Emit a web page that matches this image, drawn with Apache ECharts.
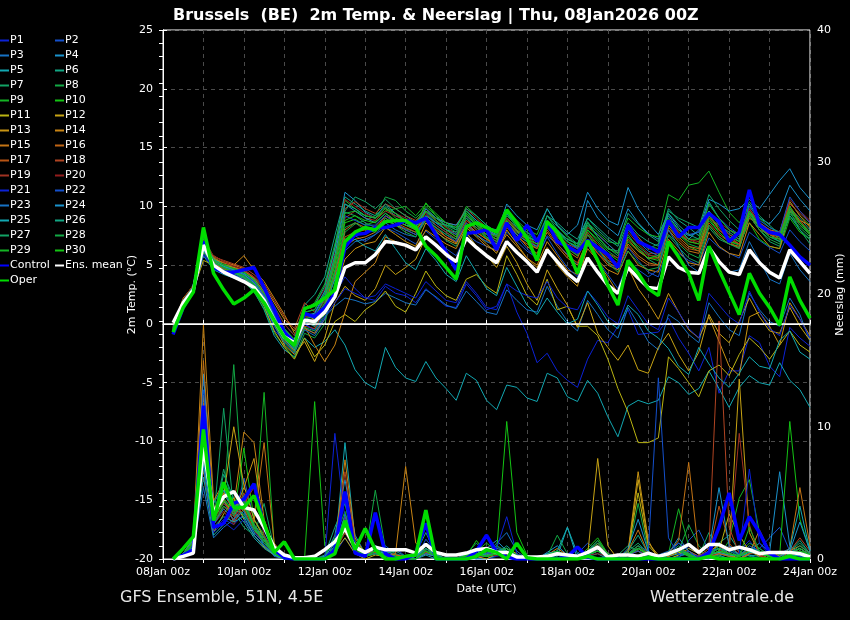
<!DOCTYPE html>
<html><head><meta charset="utf-8">
<script src="https://cdn.jsdelivr.net/npm/echarts@6.0.0/dist/echarts.min.js"></script>
<style>html,body{margin:0;padding:0;background:#000}#c{width:850px;height:620px}</style>
</head><body><div id="c"></div><script>
// x tick labels (every 48 h from 08Jan 00z)
const tickLabels = ['08Jan 00z','10Jan 00z','12Jan 00z','14Jan 00z','16Jan 00z','18Jan 00z','20Jan 00z','22Jan 00z','24Jan 00z'];
// forecast steps: +6h ... +384h
const hours = []; for (let i = 1; i <= 64; i++) hours.push(i * 6);

// ---- 2m temperature (°C) ----
const meanT = [0.1,1.8,2.9,6.7, 5.0,4.4,4.0,3.6, 3.1,2.0,0.3,-1.1, -1.6,0.3,0.2,1.0, 2.3,4.8,5.2,5.2, 5.9,7.0,6.9,6.7, 6.3,7.4,6.7,5.9, 5.3,7.3,6.5,5.8, 5.2,7.0,6.1,5.3, 4.4,6.3,5.3,4.3, 3.6,5.6,4.4,3.3, 2.6,4.8,3.9,3.1, 3.0,5.7,4.8,4.4, 4.3,6.5,5.3,4.4, 4.2,6.3,5.2,4.4, 3.9,6.3,5.3,4.3];
const controlT = [-0.9,1.4,2.9,7.0, 4.8,4.4,4.4,4.6, 4.8,3.1,1.2,-0.7, -1.6,0.9,0.6,1.4, 2.6,6.5,7.6,7.7, 8.2,8.2,8.4,8.8, 8.6,9.0,7.6,6.1, 4.6,7.7,7.8,8.0, 6.3,8.6,7.1,8.4, 7.0,8.6,7.0,6.6, 6.1,7.1,6.5,5.9, 4.8,8.4,7.0,6.6, 6.1,8.8,7.4,8.2, 8.2,9.4,8.7,7.0, 7.8,11.4,8.4,7.8, 7.6,6.7,5.7,5.0];
const operT = [-0.7,1.4,2.7,8.2, 4.3,2.9,1.7,2.2, 2.9,1.8,0.3,-1.1, -1.8,1.3,1.6,2.2, 2.9,7.0,7.8,8.2, 8.0,8.7,8.8,8.8, 8.2,6.6,5.8,4.8, 3.8,8.3,8.6,8.2, 7.8,9.7,8.6,7.3, 5.4,8.7,7.8,6.3, 4.3,7.1,5.4,3.3, 1.6,5.4,4.3,3.0, 2.4,7.0,5.7,4.3, 2.0,6.6,4.6,2.7, 0.8,4.3,2.6,1.4, -0.1,4.0,2.0,0.5];
const P1t = [-0.5,1.7,2.9,6.0, 4.8,4.5,4.2,3.8, 3.0,1.5,-0.5,-1.5, -2.2,0.0,-0.5,1.0, 2.5,4.0,3.0,2.2, 2.0,3.2,2.6,2.4, 1.8,3.0,2.2,1.5, 1.4,3.4,2.4,1.2, 1.5,3.4,1.0,-0.8, -3.3,-2.5,-4.0,-4.8, -5.4,-3.0,-1.4,-1.6, -0.2,1.2,-0.9,-0.8, -0.7,0.5,-1.2,-2.5, -4.0,-2.0,-5.9,-4.0, -4.0,-1.0,-1.6,-3.6, -4.5,-0.3,-1.2,-1.9];
const P2t = [-0.3,1.9,3.1,6.8, 5.3,4.8,4.5,4.1, 3.5,2.6,0.8,-0.8, -1.5,0.8,0.4,1.8, 4.5,7.2,7.5,7.0, 7.6,8.2,7.8,7.3, 6.8,7.9,7.2,6.4, 5.8,7.6,7.0,6.6, 6.3,7.8,7.0,6.2, 5.6,7.5,6.8,5.9, 5.0,7.0,6.2,5.3, 4.6,6.5,5.4,4.4, 4.0,6.8,6.0,5.4, 5.0,7.3,6.5,6.0, 5.6,7.8,7.1,6.5, 6.0,8.0,7.0,6.2];
const P3t = [-0.6,1.6,2.8,6.2, 5.0,4.3,4.1,3.9, 3.2,2.2,0.5,-1.2, -2.0,-0.3,-0.8,0.6, 1.5,2.2,2.0,1.7, 1.9,2.6,2.2,1.8, 1.6,2.9,2.3,1.6, 1.3,2.8,1.9,1.0, 0.8,2.9,2.0,1.2, 1.0,3.2,1.5,0.2, -0.6,2.0,0.8,-0.5, -1.2,1.4,0.0,-1.5, -2.2,0.8,0.2,-0.9, -1.6,1.8,0.6,-0.5, -1.0,2.6,1.2,0.2, -0.2,2.2,0.8,-1.5];
const P4t = [-0.4,1.8,3.0,7.0, 5.5,4.9,4.6,4.3, 3.8,2.8,1.2,-0.5, -1.6,1.0,1.2,2.8, 6.5,11.2,10.5,9.5, 9.0,9.8,9.2,8.8, 8.5,9.5,8.6,8.0, 7.8,9.2,8.4,7.9, 7.5,9.4,8.5,7.8, 7.2,8.8,8.0,7.0, 6.5,10.5,9.0,8.2, 7.5,9.8,8.6,7.7, 7.2,9.2,8.0,7.5, 7.8,9.6,8.5,7.6, 7.0,10.2,9.0,8.5, 9.5,11.8,10.6,9.6];
const P5t = [-0.8,1.5,2.7,5.8, 4.6,4.2,3.9,3.6, 2.8,1.2,-1.0,-2.2, -2.8,-1.2,-2.0,-1.5, -0.5,-1.8,-3.9,-5.0, -5.5,-2.0,-3.7,-4.6, -4.9,-3.2,-4.6,-5.5, -6.5,-4.2,-4.8,-6.5, -7.3,-5.2,-5.4,-6.3, -6.6,-4.2,-4.6,-6.2, -6.6,-4.8,-5.9,-7.9, -9.6,-7.0,-6.5,-6.8, -6.5,-4.5,-5.0,-6.0, -5.5,-4.0,-5.5,-7.1, -5.4,-4.4,-5.0,-5.2, -3.3,-4.8,-5.6,-7.1];
const P6t = [-0.2,2.0,3.2,7.2, 5.6,5.0,4.7,4.5, 3.9,3.0,1.5,0.0, -1.0,1.6,2.5,4.0, 7.5,10.8,10.2,9.6, 9.2,10.0,9.4,8.6, 8.0,9.0,8.4,7.8, 7.2,9.6,8.8,8.2, 8.0,9.2,8.4,7.5, 7.0,8.6,7.8,7.2, 6.8,9.0,8.2,7.4, 6.8,9.4,8.5,7.6, 7.0,9.8,8.8,8.2, 7.5,10.4,9.0,8.0, 7.4,9.6,8.6,8.0, 7.2,9.8,9.0,8.0];
const P7t = [-0.5,1.9,3.1,6.6, 5.2,4.7,4.5,4.1, 3.4,2.1,0.4,-0.9, -1.9,0.6,0.5,2.2, 5.5,9.5,9.2,8.6, 8.2,8.8,8.4,8.1, 7.8,8.9,7.9,7.1, 6.6,8.2,7.5,7.0, 6.8,8.8,7.9,7.2, 6.5,9.2,8.3,7.5, 6.8,8.7,7.4,6.5, 5.8,7.6,6.4,5.5, 5.0,7.5,6.5,5.6, 5.2,8.2,7.2,6.8, 6.5,9.2,8.0,7.0, 6.6,9.6,8.0,6.8];
const P8t = [-0.9,1.6,2.8,6.3, 4.9,4.4,4.0,3.6, 2.7,1.3,-0.8,-1.9, -2.9,-0.8,-1.2,0.0, 3.5,7.8,8.5,8.8, 9.2,10.8,10.5,9.6, 9.0,9.8,9.0,8.3, 7.8,9.4,8.6,7.8, 7.2,9.0,8.2,7.5, 7.0,8.4,7.6,6.7, 6.0,8.0,7.2,6.2, 5.6,7.4,6.6,5.9, 5.6,8.6,7.6,6.8, 6.5,8.8,7.8,7.0, 6.7,9.4,8.2,7.6, 7.0,9.2,8.2,7.4];
const P9t = [-0.4,2.1,3.3,7.4, 5.7,5.1,4.8,4.4, 3.7,2.5,0.9,-0.4, -1.3,1.2,1.8,3.4, 6.8,10.5,9.8,9.2, 9.0,9.6,9.8,10.0, 9.2,10.2,9.4,8.6, 8.0,10.0,9.2,8.4, 7.8,9.6,8.8,8.0, 7.6,9.8,8.4,7.4, 6.6,8.6,7.8,7.0, 6.8,9.0,8.2,7.6, 7.4,11.0,10.5,11.8, 12.0,13.0,11.2,9.5, 8.6,10.0,9.0,8.2, 7.8,10.4,9.2,8.4];
const P10t = [-0.6,1.8,3.0,6.9, 5.4,4.9,4.4,4.0, 3.3,2.2,0.6,-1.0, -1.7,0.4,0.0,1.4, 4.6,8.6,8.9,8.4, 8.7,9.9,9.0,8.6, 8.3,10.3,9.2,8.2, 7.6,9.0,8.0,7.3, 6.8,8.4,7.6,7.0, 6.4,8.8,7.6,6.6, 5.8,7.8,6.6,5.6, 5.0,7.0,6.2,5.6, 5.4,8.2,7.4,6.6, 6.2,9.0,7.8,7.0, 6.8,8.6,7.2,6.6, 6.4,9.0,7.8,7.2];
const P11t = [-0.7,1.7,2.9,5.4, 5.0,4.4,4.0,3.7, 2.9,1.5,-0.6,-2.0, -3.0,-1.2,-2.8,-1.8, 0.2,0.8,0.2,1.2, 1.8,2.8,1.5,1.0, 2.6,4.5,3.2,2.4, 2.0,3.8,4.2,3.2, 2.6,5.8,4.2,2.4, 1.6,3.8,1.2,1.5, -0.2,-0.2,-1.0,-3.0, -5.5,-7.5,-10.1,-10.1, -9.7,-2.8,-3.8,-5.0, -6.2,-4.0,-3.5,-4.4, -2.6,-1.2,-2.0,-3.0, -1.8,-0.6,-1.8,-2.4];
const P12t = [-0.3,2.0,3.1,6.4, 5.3,4.6,4.3,3.9, 3.1,1.8,0.0,-1.8, -2.6,-1.5,-3.2,-1.2, 1.8,3.2,2.4,2.0, 3.0,5.0,4.2,4.8, 5.5,7.4,6.8,6.0, 5.2,7.8,6.6,5.8, 4.8,6.6,5.2,3.4, 2.0,4.6,3.0,1.6, -0.3,1.8,-0.8,-2.0, -3.1,-1.8,-3.9,-4.2, -2.0,-0.8,-2.6,-4.0, -2.4,0.8,-0.8,-1.6, 0.2,2.2,0.6,-0.6, -0.8,1.4,-0.2,-1.4];
const P13t = [-0.5,1.8,3.0,6.1, 5.4,5.0,4.8,4.6, 4.0,3.2,1.8,0.4, -0.6,1.0,0.3,0.8, 2.8,5.5,6.4,6.8, 7.0,8.2,7.6,7.0, 6.6,8.6,7.8,7.2, 6.8,8.4,7.6,6.8, 6.0,8.0,6.8,5.6, 4.8,6.5,5.0,4.0, 3.2,6.8,5.2,4.0, 2.6,4.8,3.0,1.8, 0.4,2.6,1.0,-0.5, -1.2,0.6,-1.5,-3.6, -4.4,0.6,1.0,-0.2, -1.8,1.8,0.4,-1.0];
const P14t = [-0.2,2.2,3.2,6.0, 5.8,5.3,5.0,5.8, 4.6,3.6,2.2,0.8, -0.8,-0.2,-1.8,-3.2, -1.8,1.0,3.6,4.4, 5.2,7.4,7.0,6.6, 6.4,8.0,7.4,6.8, 6.4,8.2,7.4,6.6, 6.2,7.6,6.6,5.6, 5.0,7.0,5.8,4.6, 4.2,6.4,5.4,4.6, 4.2,6.2,5.0,4.6, 4.4,7.2,6.2,5.2, 5.0,7.8,6.6,6.0, 5.8,8.6,7.6,6.6, 6.4,9.6,8.8,8.4];
const P15t = [-0.4,1.9,3.2,6.5, 5.5,5.2,5.0,4.7, 3.8,2.4,0.6,-1.2, -2.3,-0.4,-0.8,0.4, 3.0,6.6,7.2,7.4, 7.8,9.0,8.4,8.0, 7.6,8.8,8.2,7.4, 6.9,8.4,7.8,7.2, 6.8,8.6,7.6,6.6, 6.0,7.8,6.6,5.6, 5.0,7.2,6.0,5.0, 4.6,6.8,5.8,5.2, 5.0,8.0,7.0,6.2, 6.0,8.4,7.4,6.8, 6.6,9.0,8.4,8.0, 7.8,10.4,9.2,8.2];
const P16t = [-0.1,2.1,3.3,6.9, 5.6,5.2,4.9,4.5, 3.9,2.7,1.0,-0.6, -1.5,0.2,-0.2,1.6, 4.2,8.0,8.6,8.2, 8.0,9.2,8.8,8.4, 8.0,9.0,8.0,7.4, 7.0,8.6,7.8,7.2, 6.6,8.2,7.4,6.8, 6.4,8.4,7.2,6.2, 5.6,7.6,6.4,5.4, 5.0,7.2,6.2,5.6, 5.6,8.4,7.4,6.6, 6.4,9.2,8.0,7.2, 6.8,9.4,8.2,7.6, 7.2,9.8,8.6,7.8];
const P17t = [-0.6,1.7,2.9,6.4, 5.1,4.7,4.3,4.0, 3.2,1.8,0.0,-1.4, -2.4,-0.2,-0.4,1.2, 4.0,7.4,7.8,8.0, 8.3,9.2,8.6,8.2, 7.8,9.6,8.8,8.0, 7.4,8.8,8.2,7.6, 7.0,8.8,7.9,7.0, 6.4,8.0,6.8,5.8, 5.2,7.0,6.0,5.2, 4.8,6.6,5.6,5.0, 5.0,8.2,7.2,6.4, 6.2,8.6,7.6,7.0, 6.4,9.2,8.0,7.6, 7.4,10.0,8.8,7.8];
const P18t = [-0.3,2.0,3.0,6.6, 5.7,5.4,5.1,4.8, 4.2,3.4,2.0,0.6, -0.4,1.8,1.0,2.2, 5.0,9.8,10.4,9.8, 9.4,10.2,9.8,9.2, 8.8,9.6,9.0,8.6, 8.4,9.8,9.0,8.2, 7.4,9.0,8.0,7.4, 6.8,8.6,7.6,6.8, 6.4,8.2,7.6,6.8, 6.0,8.4,7.4,6.4, 6.2,8.8,7.8,7.0, 6.8,9.4,8.0,7.4, 6.8,9.8,8.6,8.0, 7.6,10.2,9.4,8.6];
const P19t = [-0.5,1.8,3.1,6.7, 5.3,5.0,4.6,4.2, 3.6,2.3,0.8,-0.7, -1.8,0.6,0.6,2.0, 5.2,9.0,9.6,9.0, 8.8,9.6,9.2,8.8, 8.4,9.4,8.4,7.8, 7.2,8.8,8.0,7.6, 7.2,8.6,7.8,7.2, 6.6,8.6,7.4,6.6, 6.0,7.8,6.8,6.0, 5.6,7.8,6.8,6.0, 6.0,8.6,7.6,7.2, 7.0,9.0,8.4,7.6, 7.2,9.8,8.6,7.8, 7.4,9.8,8.4,7.6];
const P20t = [-0.2,2.1,3.3,7.1, 5.8,5.3,4.9,4.6, 4.0,3.0,1.4,0.0, -1.0,1.4,1.6,3.0, 6.0,10.6,10.0,9.4, 9.0,9.8,9.4,9.0, 8.6,9.8,8.8,8.2, 7.6,9.2,8.4,7.8, 7.4,9.0,8.0,7.2, 6.6,8.2,7.2,6.4, 5.8,7.6,6.4,5.6, 5.2,7.4,6.4,5.8, 5.8,8.6,7.8,7.2, 6.8,9.4,8.6,8.0, 7.6,9.6,8.4,7.6, 7.8,10.6,9.6,8.8];
const P21t = [-0.7,1.6,2.8,5.9, 4.7,4.4,4.2,4.0, 3.4,2.4,0.6,-1.0, -2.0,0.0,-0.6,0.6, 1.8,3.0,2.6,2.2, 2.4,3.4,3.0,2.6, 2.2,3.6,2.8,2.0, 1.8,3.6,2.6,1.4, 1.2,3.4,2.8,2.4, 2.2,3.6,2.2,1.4, 1.2,2.8,1.8,0.6, 0.0,2.4,1.2,0.0, -0.5,2.2,1.0,-0.4, -1.2,2.6,1.6,0.6, 0.0,2.8,1.0,-0.4, -1.0,1.6,0.4,-1.2];
const P22t = [-0.4,1.9,3.0,6.4, 5.2,4.8,4.5,4.2, 3.6,2.4,0.8,-0.7, -1.6,0.8,0.8,2.4, 5.6,9.2,8.8,8.4, 8.4,9.2,8.6,8.0, 7.6,9.0,8.2,7.6, 7.0,8.6,7.6,7.0, 6.6,8.4,7.4,6.4, 5.6,7.4,6.0,4.8, 4.0,6.8,5.4,4.2, 3.0,5.4,4.6,4.0, 4.6,8.8,8.0,7.6, 7.8,10.2,9.0,8.2, 7.6,10.0,8.8,8.2, 7.8,10.8,9.6,8.6];
const P23t = [-0.8,1.5,2.7,6.2, 4.8,4.4,4.1,3.7, 2.9,1.6,-0.2,-1.6, -2.5,-0.5,-1.0,0.4, 3.0,6.2,7.0,7.2, 7.6,8.6,8.0,7.6, 7.4,9.2,8.6,8.0, 7.6,9.0,8.2,7.4, 6.8,8.4,7.6,7.0, 6.6,8.8,7.8,7.0, 6.4,8.4,7.6,6.8, 6.0,8.0,7.0,6.2, 5.8,8.0,6.6,5.0, 4.4,6.6,5.2,4.4, 4.6,7.0,5.4,3.8, 3.4,6.0,4.6,3.6];
const P24t = [-0.3,2.0,3.1,6.8, 5.4,4.9,4.6,4.2, 3.5,2.3,0.7,-0.8, -1.8,0.7,0.9,2.6, 5.8,10.2,9.6,9.0, 8.6,9.4,8.8,8.4, 8.2,9.8,9.0,8.6, 8.4,9.6,8.8,8.0, 7.6,10.2,9.2,8.4, 8.0,9.8,8.4,7.6, 8.4,11.2,9.8,8.8, 8.4,11.6,9.8,8.6, 7.6,9.4,8.2,7.2, 8.0,10.6,10.2,9.6, 9.8,10.6,9.8,11.0, 12.2,13.2,11.6,10.6];
const P25t = [-0.6,1.7,2.9,6.3, 5.0,4.6,4.3,4.0, 3.2,1.9,0.2,-1.3, -2.2,0.2,-0.2,1.4, 3.8,6.8,7.2,6.6, 6.2,7.6,6.4,5.2, 4.6,6.4,5.4,4.2, 3.6,5.8,4.4,3.0, 2.4,4.8,3.2,1.6, 0.8,2.2,1.0,0.0, 0.4,2.8,1.6,0.2, -0.4,1.6,0.8,-0.6, -1.2,-2.1,-3.6,-4.3, -2.0,-3.4,-4.6,-5.4, -4.2,-2.8,-3.6,-3.8, -1.4,-0.6,-2.4,-3.0];
const P26t = [-0.3,2.0,3.2,7.0, 5.5,5.0,4.6,4.3, 3.7,2.6,1.0,-0.4, -1.4,1.2,1.6,3.2, 6.4,10.2,9.8,9.2, 9.0,10.2,9.4,8.8, 8.4,9.2,8.6,8.4, 8.2,9.8,9.2,8.4, 7.8,9.4,8.2,7.4, 7.0,9.2,8.6,7.8, 7.2,9.0,8.0,7.2, 6.6,8.6,7.6,7.0, 6.6,9.4,8.4,7.6, 7.2,9.6,8.4,7.8, 7.2,9.6,8.2,7.4, 7.0,9.2,8.0,7.2];
const P27t = [-0.5,1.8,3.0,6.5, 5.2,4.8,4.4,4.0, 3.3,2.0,0.3,-1.1, -2.1,0.4,0.6,2.2, 5.4,9.6,10.8,10.4, 9.8,10.6,9.8,9.2, 8.6,9.6,9.0,8.4, 8.0,9.2,8.4,7.6, 7.6,9.2,8.6,7.8, 7.2,9.2,8.0,7.2, 6.8,8.6,7.4,6.4, 6.2,8.4,7.2,6.4, 6.8,9.6,9.0,8.6, 8.2,11.0,9.8,8.8, 8.0,10.4,9.2,8.4, 7.6,9.8,8.6,7.8];
const P28t = [-0.7,1.6,2.9,6.1, 5.0,4.6,4.3,3.9, 3.0,1.7,0.0,-1.5, -2.4,-0.3,-0.6,0.8, 4.4,8.2,8.6,8.0, 7.8,9.0,8.4,7.8, 7.4,8.8,8.2,7.6, 7.2,9.0,8.2,7.4, 7.0,8.6,7.8,7.2, 6.8,8.2,7.2,6.4, 5.8,7.6,6.4,5.2, 4.4,6.2,5.2,4.6, 4.8,7.6,6.8,6.0, 5.6,8.4,7.4,6.8, 6.4,9.2,8.0,7.2, 6.8,9.4,8.4,7.6];
const P29t = [-0.4,1.9,3.1,6.8, 5.4,5.0,4.7,4.4, 3.8,2.6,1.0,-0.5, -1.4,1.0,1.2,2.6, 5.6,9.4,9.6,9.2, 9.0,9.8,9.4,8.8, 8.6,10.0,9.2,8.6, 8.2,9.6,8.6,7.8, 7.4,9.2,8.4,7.6, 7.2,8.8,7.8,7.0, 6.6,8.4,7.4,6.4, 6.0,8.0,7.2,6.6, 6.4,9.0,8.0,7.2, 7.2,10.2,9.0,8.0, 7.6,9.4,8.2,7.4, 7.2,9.6,8.6,7.8];
const P30t = [-0.6,1.8,3.0,6.6, 5.3,4.8,4.4,4.1, 3.4,2.1,0.4,-1.0, -2.0,0.2,0.2,1.8, 5.0,8.8,9.2,8.8, 8.6,9.4,8.8,8.4, 8.0,9.6,8.8,8.0, 7.4,9.4,8.4,7.6, 7.2,8.8,8.0,7.2, 6.8,8.6,7.4,6.6, 6.2,8.0,7.0,6.0, 5.4,7.4,6.4,5.6, 5.8,8.4,7.6,7.0, 6.8,9.2,8.2,7.4, 7.0,9.6,8.4,7.8, 7.4,10.0,8.6,7.6];

// ---- precipitation (mm / 6h) ----
const meanP = [0,0.2,0.45,8.5, 3.5,4.7,5.1,3.9, 3.7,2.4,0.9,0.3, 0.1,0.1,0.2,0.7, 1.3,2.3,0.9,0.5, 0.9,0.7,0.7,0.7, 0.45,1.1,0.5,0.3, 0.3,0.45,0.7,0.8, 0.5,0.5,0.15,0.15, 0.15,0.2,0.4,0.3, 0.2,0.5,0.9,0.15, 0.3,0.3,0.2,0.45, 0.2,0.4,0.7,1.1, 0.5,1.1,1.1,0.7, 0.9,0.7,0.4,0.5, 0.5,0.5,0.4,0.15];
const controlP = [0,0.3,0.7,11.6, 2.4,2.7,4.2,4.5, 5.7,2.4,0.7,0.1, 0,0,0,0, 0.7,5.1,0.45,0.2, 3.5,0.4,0,0, 0.4,2.7,0,0, 0,0,0.6,1.8, 0.5,0.15,0,0, 0,0,0,0.15, 0.9,0.15,0,0, 0,0,0,0, 0,0,0,0, 0,0.45,2.4,5.0, 1.4,3.2,2.0,0.45, 0,0,0,0];
const operP = [0,0.8,1.7,9.8, 2.9,5.8,3.9,3.9, 4.8,2.7,0.5,1.3, 0,0,0,0, 0.4,2.9,0.7,2.3, 0.7,0,0,0.2, 0.3,3.7,0,0, 0,0,0.2,0.7, 0.5,0,1.2,0.1, 0,0,0,0, 0,0.2,0,0, 0,0,0,0.1, 0,0,0,0, 0,0.2,0,0, 0,0,0,0, 0,0.2,0,0];
const P1p = [0,0.3,1.0,7.5, 2.2,3.0,2.6,3.4, 2.0,1.2,0.4,0, 0,0,0,0, 0.4,1.6,0.5,0.2, 1.0,0.4,0.8,0.2, 0.3,0.8,0.2,0, 0,0.2,0,0, 0.2,0.4,0,0, 0,0.3,0.6,0.2, 0,0,0,0, 0.2,0.5,0.2,0, 0,0.3,1.2,0.8, 0.4,0.2,0,0, 0.6,1.4,0.4,0, 0,0.3,0.2,0];
const P2p = [0,0.4,1.5,13.9, 3.6,4.4,2.8,6.1, 3.0,1.8,0.6,0.2, 0,0,0,0.1, 1.2,3.0,0.8,0.4, 0.6,1.0,0.4,0.2, 0,1.5,0.5,0.2, 0,0,0.3,0.6, 1.0,0.4,0,0, 0,0,0.3,0, 0.4,1.2,0.6,0, 0,0,0.2,0.5, 0.3,0,0,1.4, 2.2,0.6,0.2,0, 0,0.4,0.8,1.6, 2.4,0.6,0.2,0];
const P3p = [0,0.2,0.8,5.4, 1.6,2.4,3.0,4.0, 2.6,1.4,0.2,0, 0,0,0,0, 0.8,2.2,1.2,0.3, 0.5,0.2,0,0, 0,0.4,0.2,0, 0,0,0,0.4, 1.2,2.0,0.6,0, 0,0,0.4,0.2, 0,0.3,0.6,0.2, 0,0.4,0.8,0.3, 0,0,0.2,0.4, 0.2,0,0.4,1.0, 0.6,0.3,0,0, 0.4,0.8,0.3,0];
const P4p = [0,0.3,1.3,14.0, 4.2,5.6,3.2,4.8, 2.4,1.0,0.3,0, 0,0,0,0.2, 1.8,6.0,1.8,0.4, 1.0,0.6,0.3,0, 0.2,1.0,0.4,0, 0,0.4,0.2,0.8, 1.4,0.6,0.2,0, 0,0.5,1.0,0.3, 0.2,0.6,1.4,0.4, 0,0,0.3,0.2, 0,0.4,1.6,0.6, 0.2,0.4,0.3,0, 0,0.6,1.2,0.5, 6.6,1.0,0.4,0];
const P5p = [0,0.2,0.9,6.2, 1.8,2.6,3.6,2.8, 1.6,0.8,0.3,0, 0,0,0,0, 0.6,8.8,1.4,0.3, 0.4,0.3,0.2,0, 0,0.3,0,0, 0,0.2,0,0, 0.3,0.6,0.2,0, 0,0.4,0.2,2.4, 0,0.2,0.4,0, 0,0.3,0.2,0, 0,0.2,0.4,0.3, 0,0.5,0.4,0.2, 0,0.3,0.2,0, 0,0.2,0.3,0];
const P6p = [0,0.4,1.6,10.8, 3.2,6.4,4.6,3.6, 2.6,1.6,0.5,0, 0,0,0,0.3, 2.4,4.2,0.6,0.2, 0.8,0.4,0.6,0.2, 0.4,2.0,0.3,0, 0,0.3,0.6,0.2, 0.4,1.0,0.3,0, 0,0,0.4,0.3, 0,0.2,0.8,0.4, 0.2,0.6,1.8,0.4, 0,0.3,0.6,0.2, 0,0,1.2,1.8, 0.6,0.2,0,0, 0.3,0.6,1.4,0.4];
const P7p = [0,0.3,1.1,8.2, 2.8,11.4,3.6,2.4, 1.8,4.2,0.8,0.1, 0,0,0,0, 1.0,2.8,1.0,0.3, 0.6,0.3,0.2,0, 0.2,0.8,0.2,0, 0,0.4,1.2,0.4, 0.3,0.5,0.2,0, 0,0.3,0.5,0.2, 0,0.4,0.6,0.2, 0.3,1.0,0.6,0, 0,0.4,1.0,0.4, 0.2,2.0,0.6,0.2, 0,0.4,0.8,0.3, 0,0.6,1.2,0.4];
const P8p = [0,0.3,1.0,7.8, 3.0,4.2,14.7,3.8, 2.2,1.4,0.4,0, 0,0,0,0, 0.8,2.0,0.6,0.2, 5.2,0.8,0.4,0, 0,1.2,0.4,0, 0,0.2,0.4,0.2, 1.0,0.6,0.2,0, 0,0.2,1.8,0.4, 0,0.3,0.8,0.3, 0,0.4,4.2,0.6, 0,0.2,0.6,2.6, 1.0,0.3,0.2,0, 0.4,1.2,0.8,0.2, 0,0.3,0.6,0.2];
const P9p = [0,0.4,1.4,9.2, 3.4,5.2,4.4,3.2, 2.6,12.6,1.0,0.2, 0,0,0,0.2, 1.6,3.6,0.8,0.2, 0.6,0.2,0.3,0, 0,1.0,0.2,0, 0,0.3,0.6,1.2, 0.6,0.8,0.2,0, 0,0.3,0.6,0.2, 0,0.6,1.4,0.4, 0,0.3,0.8,0.3, 0.2,0.4,3.8,1.0, 0.6,0.3,0.2,1.4, 4.6,6.0,2.0,0.6, 0,0.4,0.8,0.3];
const P10p = [0,0.3,1.2,8.8, 2.6,4.0,3.2,8.4, 3.0,1.8,0.5,0, 0,0,11.9,1.0, 0.4,2.6,1.2,0.6, 0.8,0.2,0.2,0, 0,0.6,0.2,0, 0,0.2,1.4,0.4, 0.6,10.4,2.0,0.3, 0,0.4,0.6,0.2, 0,0.8,1.6,0.4, 0,0.4,0.8,0.4, 0,0.3,0.6,0.2, 0,0.4,0.8,0.4, 0.2,0.6,0.4,0.2, 0.3,10.4,3.0,0.6];
const P11p = [0,0.2,0.9,6.8, 2.0,3.4,4.6,3.0, 1.8,0.9,0.3,0, 0,0,0,0, 0.6,1.6,0.4,0, 0.3,0.2,0,0, 0,0.4,0.2,0, 0,0,0.2,0, 0.4,0.8,0.4,0, 0,0.2,0.4,0.2, 0,0.2,1.2,0.4, 0,0.6,5.0,1.0, 0.2,0,0.3,0.8, 0.4,0.2,0.6,3.4, 1.8,0.6,0.2,0, 0,0.3,0.6,0.2];
const P12p = [0,0.3,1.3,12.4, 3.8,4.8,10.0,5.6, 3.0,1.6,0.4,0, 0,0,0,0, 0.6,2.0,0.8,0.3, 0.5,0.2,0.3,0, 0,0.4,0.2,0, 0,0.2,0.3,0.2, 0.5,0.6,0.2,0, 0,0.2,0.4,0.3, 0.2,0.3,7.6,1.0, 0,0.4,6.0,1.2, 0.3,0.2,0.5,0.4, 0,0.4,1.2,0.6, 13.6,2.0,0.4,0, 0,0.4,0.8,0.3];
const P13p = [0,0.3,1.1,10.2, 3.0,4.4,3.4,5.4, 7.6,2.2,0.6,0, 0,0,0,0, 0.8,2.4,0.6,0.2, 0.4,0.2,0.2,0, 0,0.4,0.2,0, 0,0.2,0.3,0.3, 0.4,0.6,0.2,0, 0,0.2,0.4,0.2, 0,0.4,1.0,0.4, 0,0.6,6.6,1.4, 0,0.3,0.8,0.4, 0,0.2,0.6,0.4, 0.2,0.6,0.3,0, 0,0.3,0.5,0.2];
const P14p = [0,0.4,1.6,17.7, 4.4,5.8,4.0,9.6, 8.8,3.0,0.8,0.2, 0,0,0,0.1, 0.8,7.5,1.6,0.4, 0.6,0.3,0.4,7.0, 1.2,0.6,0.2,0, 0,0.4,0.3,0.4, 0.6,0.8,0.3,0, 0,0.3,0.8,0.3, 0,0.4,1.0,0.2, 0,0.4,0.6,0.2, 0,0.3,0.8,0.4, 0.2,0.6,1.0,0.4, 0,0.4,2.2,0.6, 0.2,0.6,1.0,0.4];
const P15p = [0,0.3,1.4,15.0, 3.8,5.0,3.6,4.4, 2.8,8.8,1.2,0.2, 0,0,0,0, 1.0,3.2,1.0,0.3, 0.6,0.4,0.3,0.2, 0,0.8,0.3,0, 0,0.3,0.2,0.3, 0.6,0.4,0.2,0, 0,0.2,0.4,0.2, 0,0.3,0.8,0.2, 0,0.6,2.2,0.4, 0,0.4,1.4,7.3, 0.3,0.2,0.4,0.3, 0,0.4,0.6,0.3, 0.2,0.8,5.4,1.0];
const P16p = [0,0.3,1.2,11.8, 3.2,4.6,2.8,3.8, 2.2,1.2,0.4,0, 0,0,0,0, 0.6,2.2,0.6,0.2, 0.4,0.3,0.2,0, 0,0.6,0.2,0, 0,0.2,0.2,0.2, 0.4,0.6,0.2,0, 0,0.3,0.4,0.2, 0,0.3,0.6,0.2, 0,0.4,0.8,0.3, 0,0.2,0.6,0.3, 0,0.3,0.4,0.2, 0,0.4,0.6,0.3, 0,0.3,0.6,0.2];
const P17p = [0,0.3,1.0,9.0, 2.8,3.8,3.0,4.6, 2.4,1.4,0.5,0, 0,0,0,0, 0.7,2.8,0.8,0.2, 0.5,0.2,0.3,0, 0,0.5,0.2,0, 0,0.3,0.2,0.2, 0.4,0.6,0.2,0, 0,0.2,0.6,0.3, 0,0.3,0.8,0.2, 0,0.4,1.0,0.4, 0,0.3,0.6,0.6, 0.2,0.4,4.0,1.2, 0.3,0.6,0.4,0.2, 0,0.4,0.8,0.3];
const P18p = [0,0.4,1.3,10.6, 3.4,4.2,3.4,5.0, 2.6,1.6,0.5,0.1, 0,0,0,0, 0.8,6.6,1.2,0.3, 0.6,0.3,0.2,0, 0,0.6,0.3,0, 0,0.3,0.2,0.2, 0.4,0.6,0.2,0, 0,0.3,0.5,0.2, 0,0.4,0.6,0.2, 0,0.4,0.8,0.4, 0,0.4,0.8,0.4, 0.2,0.8,18.0,2.4, 0.4,0.6,0.4,0.2, 0,0.6,1.6,0.6];
const P19p = [0,0.3,1.1,8.4, 2.6,3.6,2.6,4.2, 5.4,1.8,0.4,0, 0,0,0,0, 0.6,2.4,0.8,0.2, 0.5,0.2,0.2,0, 0,0.4,0.2,0, 0,0.3,0.4,0.2, 0.3,0.5,0.2,0, 0,0.2,0.4,0.2, 0,0.3,0.6,0.2, 0,0.3,0.6,0.3, 0,0.3,0.6,0.4, 0,0.3,0.6,0.8, 9.5,2.6,0.2,0, 0,0.4,0.6,0.2];
const P20p = [0,0.3,1.2,9.8, 3.0,4.0,3.2,4.0, 2.2,1.2,0.4,0, 0,0,0,0, 0.6,2.0,0.6,0.2, 0.4,0.2,0.2,0, 0,0.4,0.2,0, 0,0.2,0.2,0.2, 0.3,0.4,0.2,0, 0,0.2,0.4,0.2, 0,0.3,0.4,0.2, 0,0.3,0.6,0.3, 0,0.3,0.6,0.3, 0,0.2,0.5,0.4, 0.2,0.6,0.3,0, 0,0.3,0.5,0.2];
const P21p = [0,0.2,0.8,7.0, 2.0,2.8,2.2,3.0, 1.8,1.0,0.3,0, 0,0,0,0, 9.5,3.0,1.0,0.3, 0.4,0.2,0.2,0, 0,0.4,0.2,0, 0,0.2,0.3,0.2, 0.8,3.2,0.4,0, 0,0.3,0.6,0.2, 0,0.3,0.6,0.2, 0,0.4,0.8,0.3, 0,0.3,0.6,0.4, 0.2,0.6,0.8,0.6, 0.4,6.8,1.2,0.3, 0,0.3,0.6,0.2];
const P22p = [0,0.3,1.1,12.8, 3.4,4.6,3.6,4.6, 2.4,1.4,0.4,0, 0,0,0,0, 1.0,2.6,0.6,0.2, 0.6,0.3,0.2,0, 0,0.6,0.2,0, 0,0.3,0.2,0.4, 0.6,0.8,0.3,0, 0,0.3,0.5,0.2, 0,0.3,0.8,0.3, 0,0.4,1.0,0.6, 13.7,1.6,0.3,0.6, 0,0.4,0.8,0.4, 0.2,0.6,0.4,0.2, 0,0.3,0.6,0.2];
const P23p = [0,0.3,1.0,8.6, 2.6,3.8,3.0,3.6, 2.0,1.2,0.4,0, 0,0,0,0, 0.8,3.4,1.0,0.3, 0.6,0.4,0.2,0, 0,0.6,0.3,0, 0,0.4,0.6,0.4, 0.8,0.6,0.2,0, 0,0.3,0.4,0.2, 0,0.4,0.8,0.3, 0,0.3,0.6,0.2, 0.3,0.6,1.2,0.6, 0,0.4,0.8,0.4, 0.2,1.0,0.6,0.2, 0,0.4,0.8,0.3];
const P24p = [0,0.4,1.4,11.2, 3.6,5.2,3.8,4.2, 2.6,1.6,0.5,0, 0,0,0,0.2, 1.2,4.6,0.8,0.2, 0.6,0.4,0.2,0, 0.2,0.8,0.3,0, 0,0.4,0.6,0.2, 0.4,0.8,0.3,0, 0,0.4,0.6,0.2, 0,0.4,1.0,0.3, 0,0.8,3.0,0.6, 0,0.4,0.8,0.4, 0,0.6,5.4,1.0, 0.3,0.8,0.6,0.2, 0.2,0.6,2.8,0.6];
const P25p = [0,0.2,0.9,7.2, 2.4,3.2,2.8,3.2, 1.8,1.0,0.3,0, 0,0,0,0, 0.8,2.6,0.8,0.2, 0.4,0.2,0.2,0, 0,0.4,0.2,0, 0,0.2,0.3,0.2, 0.4,0.6,0.2,0, 0,0.3,0.6,2.4, 0.4,0.3,0.6,0.2, 0,0.3,0.8,0.3, 0,0.3,0.6,0.3, 0,0.3,0.5,0.3, 0.2,0.5,0.4,0.2, 0,0.8,4.0,0.6, 0,0.3,0.5,0.2];
const P26p = [0,0.4,1.5,10.0, 3.4,4.8,4.0,4.2, 2.4,1.4,0.4,0, 0,0,0,0, 1.0,2.8,0.8,0.2, 0.6,0.3,0.2,0, 0,0.8,0.3,0, 0,0.3,0.6,0.3, 0.4,0.8,0.2,0, 0,0.3,0.6,0.2, 0,0.4,0.8,0.3, 0,0.4,0.8,0.3, 0,0.3,0.6,0.4, 0,0.4,0.8,0.6, 0.2,0.6,0.4,0.2, 0,0.4,0.8,0.3, 0,0.4,0.8,0.3];
const P27p = [0,0.3,1.2,9.4, 3.0,6.8,3.8,3.4, 2.2,1.4,0.4,0, 0,0,0,0, 0.8,2.6,0.8,0.2, 0.6,0.2,0.2,0, 0,0.8,0.2,0, 0,0.3,0.4,0.2, 0.6,0.8,0.2,0, 0,0.3,0.6,0.2, 0,0.6,1.2,0.4, 0,0.6,1.2,0.4, 0,0.4,0.8,0.4, 0,0.4,1.0,0.8, 0.3,0.8,0.6,0.2, 0,0.4,1.0,0.4, 0.3,3.6,1.6,0.4];
const P28p = [0,0.3,1.0,8.0, 2.8,4.0,3.4,4.2, 2.4,1.2,0.4,0, 0,0,0,0, 0.6,2.2,0.6,0.2, 0.4,0.2,0.2,0, 0,0.6,0.2,0, 0,0.2,0.3,0.2, 0.4,0.6,0.2,0, 0,0.2,0.4,0.2, 0,0.3,0.6,0.2, 0,0.3,0.8,0.3, 0,0.3,0.6,0.3, 0,0.3,0.6,0.4, 0.2,0.6,0.4,0.2, 0,0.3,0.6,0.3, 0,0.4,0.6,0.2];
const P29p = [0,0.4,1.3,9.0, 3.2,4.6,3.6,4.4, 2.6,1.6,0.5,0, 0,0,0,0, 0.8,2.8,0.8,0.2, 0.6,0.3,0.2,0, 0,0.6,0.2,0, 0,0.3,0.4,0.2, 0.4,0.8,0.3,0, 0,0.3,0.6,0.2, 0,0.4,0.8,0.3, 0,0.4,1.0,0.3, 0,0.4,0.8,0.4, 0,0.4,0.8,0.4, 0.2,2.4,0.6,0.2, 0,0.4,0.8,0.3, 0,0.4,0.8,0.3];
const P30p = [0,0.3,1.2,9.6, 3.0,4.4,3.6,4.0, 2.4,1.4,0.4,0, 0,0,0,0, 0.8,2.4,0.8,0.2, 0.6,0.2,0.2,0, 0,0.6,0.2,0, 0,0.3,0.4,0.2, 0.4,0.6,0.2,0, 0,0.3,0.4,0.2, 0,0.4,0.6,0.2, 0,0.3,0.8,0.3, 0,0.3,0.6,0.3, 0,0.3,0.6,0.4, 0.2,0.6,0.4,0.2, 0,0.3,0.6,0.3, 0,0.3,0.6,0.2];

const memberNames = ['P1','P2','P3','P4','P5','P6','P7','P8','P9','P10','P11','P12','P13','P14','P15','P16','P17','P18','P19','P20','P21','P22','P23','P24','P25','P26','P27','P28','P29','P30'];
const memberTemps = [P1t,P2t,P3t,P4t,P5t,P6t,P7t,P8t,P9t,P10t,P11t,P12t,P13t,P14t,P15t,P16t,P17t,P18t,P19t,P20t,P21t,P22t,P23t,P24t,P25t,P26t,P27t,P28t,P29t,P30t];
const memberPrecs = [P1p,P2p,P3p,P4p,P5p,P6p,P7p,P8p,P9p,P10p,P11p,P12p,P13p,P14p,P15p,P16p,P17p,P18p,P19p,P20p,P21p,P22p,P23p,P24p,P25p,P26p,P27p,P28p,P29p,P30p];
const palette20 = ['#0c22d6','#1450cc','#1672c4','#1a92cc','#12a8b2','#12a684','#12a264','#12a844','#14b424','#14c414','#bab412','#c8a414','#c89414','#c88414','#c47414','#c06414','#b85414','#b04422','#a03222','#921c1c'];

const FONT = 'DejaVu Sans';
const pair = vals => vals.map((v, k) => [hours[k], v]);

const series = [];
function addLine(name, data, yIdx, color, width, z) {
  const s = { name, type: 'line', yAxisIndex: yIdx, data: pair(data), showSymbol: false, symbol: 'none',
    lineStyle: { width, color }, itemStyle: { color }, z, silent: true, animation: false };
  series.push(s); return s;
}
memberNames.forEach((n, k) => {
  const col = palette20[k % 20];
  addLine(n, memberTemps[k], 0, col, 1, 2);
  addLine(n, memberPrecs[k], 1, col, 1, 2);
});
addLine('Control', controlT, 0, '#0000ff', 3.5, 3);
addLine('Control', controlP, 1, '#0000ff', 3.5, 3);
const mt = addLine('Ens. mean', meanT, 0, '#ffffff', 3.5, 4);
addLine('Ens. mean', meanP, 1, '#ffffff', 3.5, 4);
addLine('Oper', operT, 0, '#00dd00', 3.5, 5);
addLine('Oper', operP, 1, '#00dd00', 3.5, 5);
mt.markLine = { silent: true, symbol: 'none', label: { show: false }, animation: false,
  lineStyle: { color: '#ffffff', width: 1.5, type: 'solid' }, data: [{ yAxis: 0 }] };

const col1 = [], col2 = [];
memberNames.forEach((n, k) => (k % 2 === 0 ? col1 : col2).push(n));
col1.push('Control', 'Oper'); col2.push('Ens. mean');
const legendBase = { orient: 'vertical', top: 34, itemWidth: 9, itemHeight: 2, itemGap: 2, icon: 'rect',
  selectedMode: false, padding: 0,
  textStyle: { color: '#fff', fontSize: 11, fontFamily: FONT, lineHeight: 13, padding: [0, 0, 0, -4] } };

const chart = echarts.init(document.getElementById('c'), null, { renderer: 'canvas' });
chart.setOption({
  backgroundColor: '#000',
  animation: false,
  title: { text: 'Brussels  (BE)  2m Temp. & Neerslag | Thu, 08Jan2026 00Z', left: 168, top: 3,
    textStyle: { color: '#fff', fontSize: 16, fontWeight: 'bold', fontFamily: FONT } },
  legend: [Object.assign({}, legendBase, { left: 0, data: col1 }), Object.assign({}, legendBase, { left: 55, data: col2 })],
  grid: { left: 163, right: 40, top: 30, bottom: 61, show: true, borderColor: '#fff', borderWidth: 1,
    backgroundColor: 'transparent', containLabel: false, outerBoundsMode: 'none' },
  xAxis: [{
    type: 'value', min: 0, max: 384, interval: 24,
    axisLine: { show: true, lineStyle: { color: '#fff' } },
    axisTick: { show: true, inside: true, length: 4, lineStyle: { color: '#fff' } },
    axisLabel: { color: '#fff', fontSize: 11, fontFamily: FONT, margin: 8,
      formatter: v => (v % 48 === 0 ? tickLabels[v / 48] : '') },
    splitLine: { show: true, lineStyle: { color: '#4a4a4a', type: [4, 4], width: 1 } },
    name: 'Date (UTC)', nameLocation: 'middle', nameGap: 25, nameMoveOverlap: false,
    nameTextStyle: { color: '#fff', fontSize: 11, fontFamily: FONT }
  }, {
    type: 'value', position: 'top', min: 0, max: 384, interval: 24,
    axisLine: { show: true, lineStyle: { color: '#fff' } },
    axisTick: { show: true, inside: true, length: 4, lineStyle: { color: '#fff' } },
    axisLabel: { show: false }, splitLine: { show: false }
  }],
  yAxis: [{
    type: 'value', min: -20, max: 25, interval: 5, position: 'left',
    axisLine: { show: true, lineStyle: { color: '#fff' } },
    axisTick: { show: true, inside: true, length: 4, lineStyle: { color: '#fff' } },
    axisLabel: { color: '#fff', fontSize: 11, fontFamily: FONT, margin: 10 },
    splitLine: { show: true, lineStyle: { color: '#4a4a4a', type: [4, 4], width: 1 } },
    name: '2m Temp. (°C)', nameLocation: 'middle', nameGap: 25, nameRotate: 90, nameMoveOverlap: false,
    nameTextStyle: { color: '#fff', fontSize: 11, fontFamily: FONT }
  }, {
    type: 'value', min: 0, max: 40, interval: 10, position: 'right',
    axisLine: { show: true, lineStyle: { color: '#fff' } },
    axisTick: { show: true, inside: true, length: 4, lineStyle: { color: '#fff' } },
    minorTick: { show: true, splitNumber: 10, length: 4, lineStyle: { color: '#fff' } },
    axisLabel: { color: '#fff', fontSize: 11, fontFamily: FONT, margin: 7 },
    splitLine: { show: false },
    name: 'Neerslag (mm)', nameLocation: 'middle', nameGap: 25, nameRotate: 90, nameMoveOverlap: false,
    nameTextStyle: { color: '#fff', fontSize: 11, fontFamily: FONT }
  }],
  graphic: [
    { type: 'text', left: 120, top: 590, style: { text: 'GFS Ensemble, 51N, 4.5E', fill: '#e8e8e8', font: '16px "DejaVu Sans"' } },
    { type: 'text', left: 650, top: 590, style: { text: 'Wetterzentrale.de', fill: '#e8e8e8', font: '16px "DejaVu Sans"' } }
  ],
  series
});
</script></body></html>
